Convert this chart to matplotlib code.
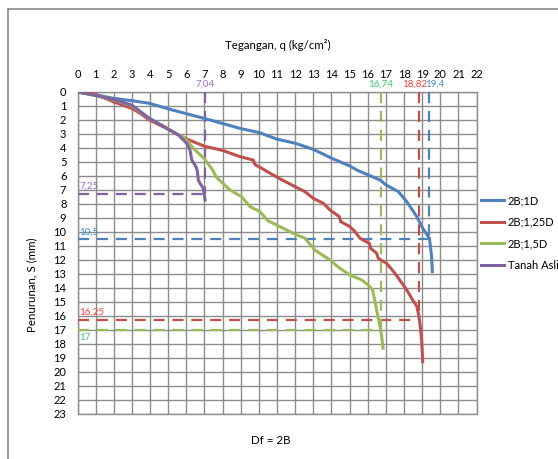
import matplotlib
matplotlib.use("Agg")
import matplotlib.pyplot as plt
from matplotlib.lines import Line2D

plt.rcParams['font.family'] = ['Lato', 'DejaVu Sans']

# ---- data ----
blue_q = [0, 1, 1.97, 3.0, 3.96, 5.1, 6.0, 6.97, 8.0, 8.96, 10.02, 10.98, 12.03, 13.0, 14.03,
          15.02, 15.39, 16.03, 16.68, 17.01, 17.69, 18.15, 18.7, 19.03, 19.4, 19.52, 19.56]
blue_s = [0, 0.2, 0.45, 0.62, 0.81, 1.24, 1.55, 1.88, 2.25, 2.6, 2.9, 3.36, 3.67, 4.1, 4.74,
          5.29, 5.57, 5.93, 6.29, 6.64, 7.12, 7.83, 8.9, 9.74, 10.45, 11.76, 12.83]

red_q = [0, 0.87, 1.97, 2.99, 3.45, 3.96, 4.92, 5.93, 6.97, 8.04, 8.96, 9.69, 9.79, 10.06, 10.61,
         11.16, 11.99, 12.54, 13.0, 13.55, 13.92, 14.43, 14.51, 15.02, 15.3, 15.57, 16.09, 16.16,
         16.49, 16.58, 17.04, 17.5, 18.15, 18.45, 18.7, 18.82, 18.9, 18.97, 19.03]
red_s = [0, 0.1, 0.69, 1.17, 1.52, 2.0, 2.6, 3.31, 3.86, 4.19, 4.62, 4.86, 5.2, 5.38, 5.8,
         6.2, 6.76, 7.12, 7.6, 7.95, 8.43, 8.9, 9.26, 9.62, 9.98, 10.45, 10.81, 11.17,
         11.52, 11.88, 12.24, 12.95, 14.14, 14.8, 15.3, 16.0, 16.8, 17.7, 19.26]

green_q = [0, 1, 1.97, 2.99, 3.96, 4.92, 5.1, 5.5, 6.02, 6.38, 6.97, 7.45, 7.65, 8.41, 9.05, 9.51,
           10.06, 10.5, 11.16, 11.9, 12.54, 13.09, 13.92, 14.47, 15.02, 15.67, 16.03, 16.27,
           16.49, 16.68, 16.77, 16.84]
green_s = [0, 0.25, 0.55, 0.98, 1.9, 2.55, 2.71, 3.0, 3.43, 4.02, 4.74, 5.57, 6.08, 7.0, 7.48, 8.19,
           8.55, 9.2, 9.62, 10.1, 10.45, 11.29, 12.0, 12.6, 13.07, 13.43, 13.79, 14.14,
           15.57, 16.76, 17.48, 18.3]

purple_q = [0, 1, 1.97, 2.99, 3.96, 4.92, 5.56, 6.02, 6.2, 6.3, 6.53, 6.6, 6.66, 6.75, 6.93, 7.03]
purple_s = [0, 0.25, 0.52, 0.93, 1.88, 2.6, 3.07, 3.67, 4.14, 4.86, 5.33, 5.6, 6.29, 6.52, 6.88, 7.71]

series_labels = ['2B;1D', '2B;1,25D', '2B;1,5D', 'Tanah Asli']
ref_q = [19.4, 18.82, 16.74, 7.04]
ref_s = [10.5, 16.25, 17, 7.25]
ref_q_text = ['19,4', '18,82', '16,74', '7,04']
ref_s_text = ['10,5', '16,25', '17', '7,25']

x_ticks = list(range(0, 23))
y_ticks = list(range(0, 24))

# ---- style ----
line_colors = ['#4F81BD', '#C0504D', '#9BBB59', '#8064A2']
text_colors = ['#3a8fd0', '#ff3b3b', '#2ecc71', '#9b6bd0']

W, H = 558, 459
fig = plt.figure(figsize=(W / 100, H / 100), dpi=100)
fig.patch.set_facecolor('white')
# chart-area frame (top and left edges visible)
fig.add_artist(Line2D([7.5 / W, 1.0], [1 - 9 / H, 1 - 9 / H], transform=fig.transFigure,
                      color='#8a8a8a', lw=1.2))
fig.add_artist(Line2D([7.5 / W, 7.5 / W], [0.0, 1 - 9 / H], transform=fig.transFigure,
                      color='#8a8a8a', lw=1.2))

left, right, top, bottom = 77.5, 476.6, 92, 414
ax = fig.add_axes([left / W, 1 - bottom / H, (right - left) / W, (bottom - top) / H])

ax.set_xlim(0, 22)
ax.set_ylim(23, 0)
ax.set_xticks(x_ticks)
ax.set_yticks(y_ticks)
ax.xaxis.tick_top()
ax.tick_params(axis='both', length=0, labelsize=8, colors='black')
ax.tick_params(axis='x', pad=9)
ax.tick_params(axis='y', pad=8)
ax.grid(True, color='#8c8c8c', linewidth=1.0)
ax.set_axisbelow(True)
for sp in ax.spines.values():
    sp.set_color('#8c8c8c')
    sp.set_linewidth(1.0)

# reference dashed lines
for i in range(4):
    ax.plot([ref_q[i], ref_q[i]], [0, ref_s[i]], color=line_colors[i], lw=1.6,
            dashes=(5, 3.5), zorder=3)
    ax.plot([0, ref_q[i]], [ref_s[i], ref_s[i]], color=line_colors[i], lw=1.6,
            dashes=(5, 3.5), zorder=3)

# curves
series = [(blue_q, blue_s), (red_q, red_s), (green_q, green_s), (purple_q, purple_s)]
handles = []
for (q, s), c, lab in zip(series, line_colors, series_labels):
    h, = ax.plot(q, s, color=c, lw=2.2, label=lab, zorder=4, solid_joinstyle='round')
    handles.append(h)

# reference labels at top
top_text_x = [19.72, 18.6, 16.7, 7.01]
for i in range(4):
    ax.text(top_text_x[i], -0.22, ref_q_text[i], color=text_colors[i], fontsize=7,
            ha='center', va='bottom', clip_on=False)
# reference labels at left
left_text_y = [9.98, 15.7, 17.5, 6.71]
for i in range(4):
    ax.text(0.1, left_text_y[i], ref_s_text[i], color=text_colors[i], fontsize=7,
            ha='left', va='center')

# texts
fig.text(278 / W, 1 - 45 / H, 'Tegangan, q (kg/cm²)', ha='center', va='center', fontsize=8.3)
fig.text(31.5 / W, 1 - 285 / H, 'Penurunan, S (mm)', ha='center', va='center', fontsize=8.3,
         rotation=90)
fig.text(270.5 / W, 1 - 441 / H, 'Df = 2B', ha='center', va='center', fontsize=8.3)

fig.legend(handles=handles, labels=series_labels, loc='upper left',
           bbox_to_anchor=(481 / W, 1 - 195 / H), frameon=False, fontsize=8,
           handlelength=2.1, handletextpad=0.3, labelspacing=0.95, borderpad=0,
           borderaxespad=0)

fig.savefig('out.png', dpi=100)
